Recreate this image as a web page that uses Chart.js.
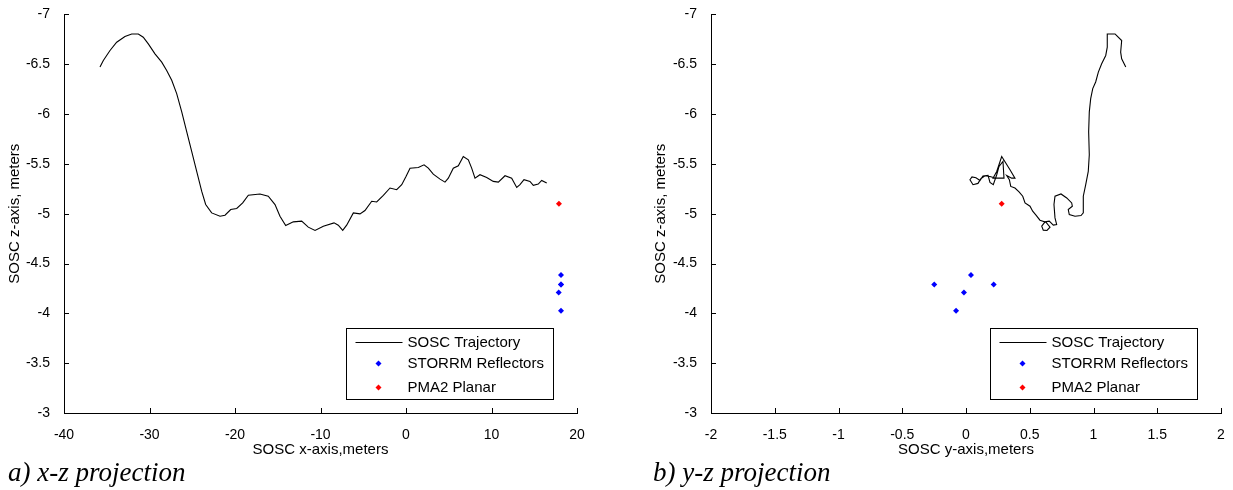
<!DOCTYPE html>
<html>
<head>
<meta charset="utf-8">
<script src="https://cdn.jsdelivr.net/npm/chart.js"></script>
<style>
  body { margin: 0; background: #fff; width: 1233px; height: 490px; position: relative; overflow: hidden; }
  .panel { position: absolute; top: 0; height: 460px; }
  #panelXZ { left: 0; width: 616px; }
  #panelYZ { left: 616px; width: 617px; }
  .caption { position: absolute; top: 457px; line-height: 28px; font: italic 27px "Liberation Serif", "Times New Roman", serif; color: #000; white-space: nowrap; }
</style>
</head>
<body>
<div class="panel" id="panelXZ"><canvas id="chartXZ"></canvas></div>
<div class="panel" id="panelYZ"><canvas id="chartYZ"></canvas></div>
<div class="caption" style="left:8px">a) x-z projection</div>
<div class="caption" style="left:653px">b) y-z projection</div>

<script>
// trayectoria SOSC, proyeccion x-z (metros)
const xzTrajX = [-35.79,-35.40,-34.62,-33.84,-32.87,-32.08,-31.31,-30.73,-30.14,-29.36,
  -28.57,-27.99,-27.40,-26.82,-26.23,-25.65,-25.06,-24.48,-23.89,-23.43,
  -22.73,-21.75,-21.17,-20.50,-19.80,-19.10,-18.44,-17.08,-16.11,-15.32,
  -14.74,-14.07,-13.18,-12.20,-11.43,-10.64,-9.67,-8.42,-7.92,-7.40,
  -6.94,-6.16,-5.38,-4.80,-4.01,-3.43,-2.65,-1.87,-1.09,-0.50,
  0.00,0.47,1.44,2.11,2.61,3.19,3.98,4.56,4.95,5.53,
  6.12,6.70,7.29,7.68,8.07,8.65,9.44,10.21,10.80,11.58,
  12.36,12.95,13.33,13.80,14.50,14.89,15.47,15.87,16.46];
const xzTrajZ = [-6.471,-6.538,-6.638,-6.721,-6.778,-6.803,-6.803,-6.771,-6.704,-6.604,
  -6.521,-6.438,-6.339,-6.205,-6.022,-5.823,-5.623,-5.424,-5.224,-5.092,
  -5.008,-4.975,-4.985,-5.042,-5.052,-5.108,-5.185,-5.198,-5.175,-5.092,
  -4.975,-4.882,-4.918,-4.925,-4.865,-4.832,-4.875,-4.908,-4.885,-4.832,
  -4.885,-5.008,-4.998,-5.032,-5.125,-5.118,-5.185,-5.258,-5.241,-5.291,
  -5.374,-5.457,-5.464,-5.491,-5.457,-5.397,-5.347,-5.317,-5.357,-5.457,
  -5.481,-5.574,-5.541,-5.457,-5.357,-5.391,-5.364,-5.324,-5.317,-5.381,
  -5.357,-5.264,-5.291,-5.341,-5.324,-5.284,-5.297,-5.334,-5.307];

// trayectoria SOSC, proyeccion y-z (metros)
const yzTrajY = [1.253,1.221,1.213,1.221,1.182,1.169,1.108,1.108,1.096,1.064,
  1.038,1.017,0.994,0.978,0.967,0.962,0.967,0.959,0.939,0.920,
  0.920,0.902,0.855,0.810,0.802,0.834,0.829,0.790,0.745,0.698,
  0.690,0.698,0.711,0.685,0.653,0.620,0.594,0.606,0.635,0.659,
  0.627,0.580,0.549,0.523,0.502,0.463,0.445,0.416,0.384,0.351,
  0.340,0.319,0.358,0.384,0.345,0.280,0.241,0.212,0.298,0.290,
  0.259,0.241,0.214,0.188,0.173,0.133,0.110,0.078,0.047,0.031,
  0.055,0.094,0.118,0.149,0.188,0.227];
const yzTrajZ = [-6.471,-6.554,-6.621,-6.738,-6.788,-6.804,-6.804,-6.671,-6.588,-6.504,
  -6.421,-6.322,-6.255,-6.155,-6.022,-5.823,-5.591,-5.424,-5.291,-5.175,
  -5.008,-4.982,-4.975,-4.992,-5.042,-5.075,-5.108,-5.158,-5.198,-5.175,
  -5.092,-4.958,-4.892,-4.885,-4.925,-4.918,-4.875,-4.835,-4.832,-4.865,
  -4.915,-4.935,-4.985,-5.025,-5.075,-5.108,-5.175,-5.219,-5.257,-5.274,
  -5.341,-5.384,-5.357,-5.357,-5.441,-5.574,-5.424,-5.357,-5.357,-5.524,
  -5.474,-5.391,-5.291,-5.314,-5.384,-5.379,-5.334,-5.361,-5.369,-5.341,
  -5.291,-5.304,-5.354,-5.381,-5.374,-5.359];

// reflectores STORRM y PMA2
const storrmX = [18.13, 18.13, 18.13, 17.86, 18.13];
const storrmY = [0.039, -0.249, 0.217, -0.016, -0.078];
const storrmZ = [-4.386, -4.290, -4.290, -4.210, -4.027];
const pmaX = [17.89];
const pmaY = [0.28];
const pmaZ = [-5.10];

const xTicks = [-40, -30, -20, -10, 0, 10, 20];
const yTicks = [-2, -1.5, -1, -0.5, 0, 0.5, 1, 1.5, 2];
const zTicks = [-7, -6.5, -6, -5.5, -5, -4.5, -4, -3.5, -3];

const seriesNames = ['SOSC Trajectory', 'STORRM Reflectors', 'PMA2 Planar'];

const FONT = '"Liberation Sans", Arial, sans-serif';

function zip(a, b){
  return a.map((v, i) => ({ x: v, y: b[i] }));
}

// ticks hacia adentro, estilo matlab
const inwardTicks = {
  id: 'inwardTicks',
  afterDraw(chart){
    const { ctx, chartArea: a, scales: { x, y } } = chart;
    ctx.save();
    ctx.strokeStyle = '#000';
    ctx.lineWidth = 1;
    ctx.beginPath();
    x.ticks.forEach(t => {
      const px = Math.round(x.getPixelForValue(t.value)) + 0.5;
      ctx.moveTo(px, a.bottom);
      ctx.lineTo(px, a.bottom - 5);
    });
    y.ticks.forEach(t => {
      const py = Math.round(y.getPixelForValue(t.value)) + 0.5;
      ctx.moveTo(a.left, py);
      ctx.lineTo(a.left + 5, py);
    });
    ctx.stroke();
    ctx.restore();
  }
};

// leyenda con recuadro dentro del area de la grafica
const boxLegend = {
  id: 'boxLegend',
  afterDraw(chart){
    const { ctx, chartArea: a } = chart;
    const w = 207, h = 71;
    const left = Math.round(a.right - 24 - w) + 0.5;
    const top = Math.round(a.bottom - 14 - h) + 0.5;
    const rows = [13.5, 34.5, 58];
    ctx.save();
    ctx.fillStyle = '#fff';
    ctx.fillRect(left, top, w, h);
    ctx.strokeStyle = '#000';
    ctx.lineWidth = 1;
    ctx.strokeRect(left, top, w, h);
    ctx.font = '15px ' + FONT;
    ctx.textBaseline = 'middle';
    chart.data.datasets.forEach((ds, i) => {
      const ry = Math.round(top + rows[i]) + 0.5;
      if (ds.showLine) {
        ctx.beginPath();
        ctx.moveTo(left + 9, ry);
        ctx.lineTo(left + 56, ry);
        ctx.strokeStyle = ds.borderColor;
        ctx.stroke();
      } else {
        const cx = left + 32, r = 3;
        ctx.beginPath();
        ctx.moveTo(cx, ry - r); ctx.lineTo(cx + r, ry); ctx.lineTo(cx, ry + r); ctx.lineTo(cx - r, ry);
        ctx.closePath();
        ctx.fillStyle = ds.backgroundColor;
        ctx.fill();
      }
      ctx.fillStyle = '#000';
      ctx.fillText(ds.label, left + 61, ry);
    });
    ctx.restore();
  }
};

function proyeccion(canvasId, traj, refl, pma, hx, ticksH, tituloH, anchoEjeV, padTituloV, padDerecha){
  const marker = color => ({
    showLine: false, pointStyle: 'rectRot', pointRadius: 3, pointHoverRadius: 3,
    backgroundColor: color, borderColor: color, borderWidth: 0
  });
  return new Chart(document.getElementById(canvasId), {
    type: 'scatter',
    data: {
      datasets: [
        { label: seriesNames[0], data: traj, showLine: true, borderColor: '#000', backgroundColor: '#000',
          borderWidth: 1.1, pointRadius: 0, tension: 0 },
        Object.assign({ label: seriesNames[1], data: refl }, marker('#0000ff')),
        Object.assign({ label: seriesNames[2], data: pma }, marker('#ff0000'))
      ]
    },
    options: {
      responsive: true,
      maintainAspectRatio: false,
      animation: false,
      layout: { padding: { top: 12, right: padDerecha, left: 0, bottom: 0 } },
      plugins: { legend: { display: false }, tooltip: { enabled: false } },
      scales: {
        x: {
          type: 'linear', position: 'bottom', min: hx[0], max: hx[1],
          grid: { display: false },
          border: { display: true, color: '#000', width: 1 },
          afterBuildTicks: s => { s.ticks = ticksH.map(v => ({ value: v })); },
          afterFit: s => { s.height = 47; },
          ticks: { color: '#000', padding: 6, font: { family: FONT, size: 14 }, callback: v => String(v) },
          title: { display: true, text: tituloH, color: '#000', font: { family: FONT, size: 15 }, padding: { top: 0, bottom: 1 } }
        },
        y: {
          type: 'linear', position: 'left', min: -7, max: -3, reverse: true,
          grid: { display: false },
          border: { display: true, color: '#000', width: 1 },
          afterBuildTicks: s => { s.ticks = zTicks.map(v => ({ value: v })); },
          afterFit: s => { s.width = anchoEjeV; },
          ticks: { color: '#000', padding: 6, font: { family: FONT, size: 14 }, callback: v => String(v) },
          title: { display: true, text: 'SOSC z-axis, meters', color: '#000', font: { family: FONT, size: 15 }, padding: { top: padTituloV, bottom: 0 } }
        }
      }
    },
    plugins: [inwardTicks, boxLegend]
  });
}

proyeccion('chartXZ', zip(xzTrajX, xzTrajZ), zip(storrmX, storrmZ), zip(pmaX, pmaZ),
  [-40, 20], xTicks, 'SOSC x-axis,meters', 64, 6, 39);

proyeccion('chartYZ', zip(yzTrajY, yzTrajZ), zip(storrmY, storrmZ), zip(pmaY, pmaZ),
  [-2, 2], yTicks, 'SOSC y-axis,meters', 95, 36, 12);
</script>
</body>
</html>
